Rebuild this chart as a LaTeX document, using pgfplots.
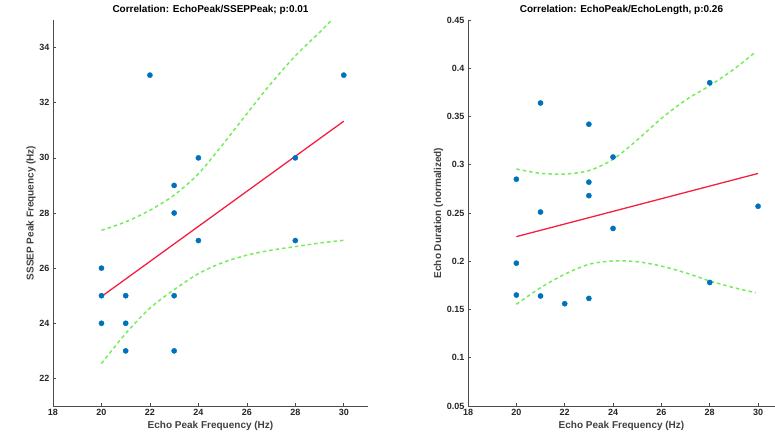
\documentclass[border=0pt]{standalone}
\usepackage{pgfplots}
\pgfplotsset{compat=1.18}
\usepackage{fontspec}
\setmainfont{Liberation Sans}
\definecolor{mblue}{rgb}{0.0,0.447,0.741}
\definecolor{mred}{rgb}{0.96,0.12,0.25}
\definecolor{mgreen}{rgb}{0.45,0.93,0.35}
\definecolor{txt}{rgb}{0.15,0.15,0.15}
\pgfplotsset{
  myax/.style={
    scale only axis,
    height=386pt,
    axis x line=bottom,
    axis y line=left,
    axis line style={-, line width=0.8pt, black!70},
    tick align=inside,
    major tick length=3pt,
    tick style={black!70, line width=0.6pt},
    ticklabel style={font=\fontsize{9}{10}\selectfont\bfseries, text=txt},
    /pgf/number format/assume math mode=true,
    label style={font=\fontsize{10}{11}\selectfont\bfseries, text=black!75},
    title style={font=\fontsize{10}{11}\selectfont\bfseries, text=black, yshift=-4pt},
    xlabel={Echo Peak Frequency (Hz)},
    xmin=18,
    xtick={18,20,...,30},
    clip=true,
  },
  pts/.style={only marks, mark=*, mark size=2.6pt, mark options={fill=mblue, draw=mblue}},
  fit/.style={mred, line width=1.3pt, no marks},
  band/.style={mgreen, line width=1.5pt, dash pattern=on 3.5pt off 3pt, no marks, smooth},
}
\begin{document}
\begin{tikzpicture}
\path[use as bounding box] (0,0) rectangle (775pt,442pt);
\begin{axis}[myax,
  at={(53pt,36pt)}, anchor=south west,
  width=315pt,
  xmax=31, ymin=21, ymax=35,
  ytick={22,24,...,34},
  ylabel={SSSEP Peak Frequency (Hz)},
  title={Correlation: EchoPeak/SSEPPeak; p:0.01},
  ylabel style={yshift=-3pt},
  xlabel style={yshift=2pt},
]
\addplot[pts] coordinates {
(20,26) (20,25) (20,24) (21,25) (21,24) (21,23) (22,33) (23,29)
(23,28) (23,25) (23,23) (24,30) (24,27) (28,30) (28,27) (30,33)};
\addplot[fit] coordinates {(20,24.97) (30,31.33)};
\addplot[band] coordinates {
(20,27.37) (21,27.68) (22,28.1) (23,28.65) (24,29.42) (25,30.48)
(26,31.6) (27,32.7) (28,33.7) (29,34.55) (29.5,35.0)};
\addplot[band] coordinates {
(20,22.54) (21,23.63) (22,24.55) (23,25.22) (24,25.8) (25,26.2)
(26,26.47) (27,26.65) (28,26.78) (29,26.91) (30,27.01)};
\end{axis}
\begin{axis}[myax,
  at={(468pt,36pt)}, anchor=south west,
  width=307pt,
  xmax=30.7, ymin=0.05, ymax=0.45,
  ytick={0.05,0.1,...,0.46},
  yticklabels={0.05,0.1,0.15,0.2,0.25,0.3,0.35,0.4,0.45},
  ylabel={Echo Duration (normalized)},
  title={Correlation: EchoPeak/EchoLength, p:0.26},
  ylabel style={yshift=-3pt},
  xlabel style={yshift=2pt},
]
\addplot[pts] coordinates {
(20,0.285) (20,0.198) (20,0.165) (21,0.364) (21,0.251) (21,0.164)
(22,0.156) (23,0.342) (23,0.282) (23,0.268) (23,0.1615) (24,0.308)
(24,0.234) (28,0.385) (28,0.178) (30,0.257)};
\addplot[fit] coordinates {(20,0.2255) (30,0.291)};
\addplot[band] coordinates {
(20,0.2956) (21,0.2911) (22,0.2904) (23,0.2939) (24,0.3056) (25,0.3257)
(26,0.348) (27,0.367) (28,0.382) (29,0.399) (29.9,0.417)};
\addplot[band] coordinates {
(20,0.1554) (21,0.1726) (22,0.1865) (23,0.1968) (24,0.2003) (25,0.1995)
(26,0.195) (27,0.188) (28,0.1796) (29,0.1726) (29.9,0.1674)};
\end{axis}
\end{tikzpicture}
\end{document}
